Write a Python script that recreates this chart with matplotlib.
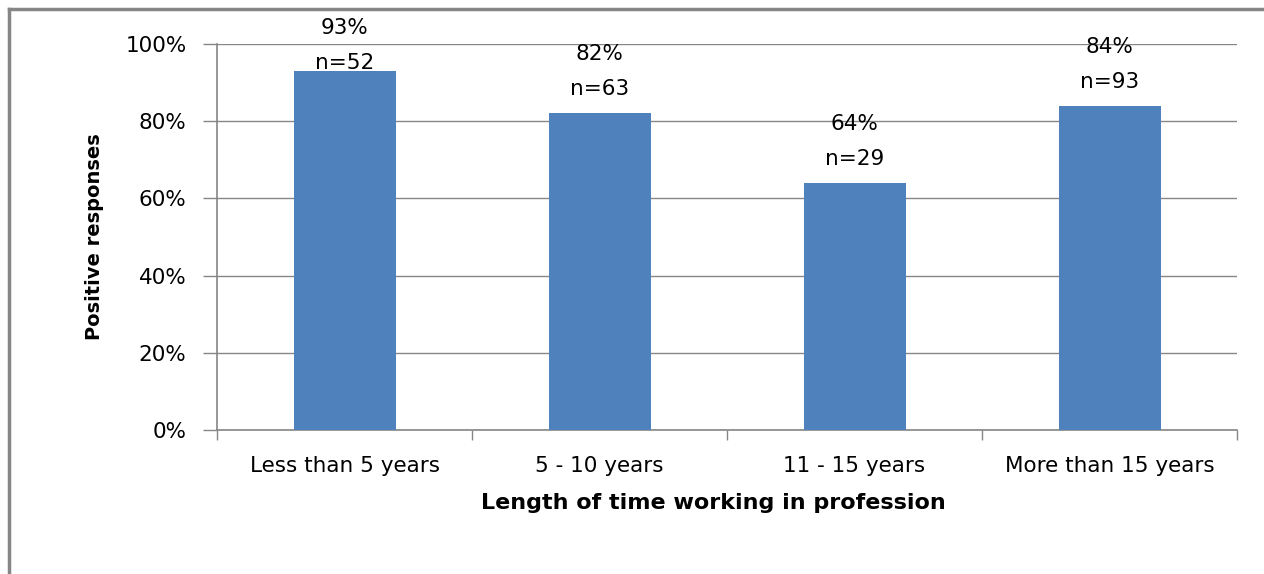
import matplotlib
matplotlib.use("Agg")
import matplotlib.pyplot as plt
from matplotlib.lines import Line2D
import numpy as np

categories = ["Less than 5 years", "5 - 10 years", "11 - 15 years", "More than 15 years"]
positive_pct = [93, 82, 64, 84]
n_counts = [52, 63, 29, 93]
y_ticks = [0, 20, 40, 60, 80, 100]

plt.rcParams['font.family'] = ['DejaVu Sans']
FS = 15.5

W, H = 1264, 574
fig = plt.figure(figsize=(W / 100, H / 100), dpi=100)
fig.patch.set_facecolor("white")

# axes box in pixel coordinates
x0, x1, y_top, y_bot = 217, 1237, 44, 430
ax_h = y_bot - y_top
ax = fig.add_axes([x0 / W, 1 - y_bot / H, (x1 - x0) / W, ax_h / H])

grey = "#868686"
x = np.arange(len(categories))
ax.bar(x, positive_pct, width=0.4, color="#4f81bd", zorder=3)
ax.set_xlim(-0.5, len(categories) - 0.5)
ax.set_ylim(0, 100)

ax.set_yticks(y_ticks)
ax.set_yticklabels([f"{v}%" for v in y_ticks], fontsize=FS)
ax.yaxis.grid(True, color=grey, linewidth=1.0, zorder=0)
ax.tick_params(axis="y", length=10, width=1.0, color=grey, pad=12)

# category boundary ticks on the x axis
ax.set_xticks(np.arange(-0.5, len(categories), 1.0))
ax.set_xticklabels([])
ax.set_xticks(x, minor=True)
ax.set_xticklabels(categories, minor=True, fontsize=FS)
ax.tick_params(axis="x", which="major", length=7, width=1.0, color=grey)
ax.tick_params(axis="x", which="minor", length=0, pad=19)

for side in ("top", "right"):
    ax.spines[side].set_visible(False)
for side in ("left", "bottom"):
    ax.spines[side].set_color(grey)
    ax.spines[side].set_linewidth(1.2)

# two-line value labels above each bar, kept inside the chart area
trans = ax.get_xaxis_transform()
for xi, v, n in zip(x, positive_pct, n_counts):
    pct_y = min(v / 100 + 59 / ax_h, 1 + 16 / ax_h)
    n_y = pct_y - 35 / ax_h
    ax.text(xi, pct_y, f"{v}%", transform=trans, ha="center", va="center",
            fontsize=FS, clip_on=False)
    ax.text(xi, n_y, f"n={n}", transform=trans, ha="center", va="center",
            fontsize=FS, clip_on=False)

ax.set_ylabel("Positive responses", fontsize=14, fontweight="bold", labelpad=15)
ax.set_xlabel("Length of time working in profession", fontsize=16,
              fontweight="bold")
ax.xaxis.set_label_coords(0.487, -73 / ax_h)
ax.xaxis.label.set_va("center")

# outer frame of the chart area
fig.add_artist(Line2D([9 / W, 1.0], [1 - 9 / H, 1 - 9 / H], color=grey,
                      linewidth=2.5, transform=fig.transFigure))
fig.add_artist(Line2D([9 / W, 9 / W], [1 - 9 / H, 0.0], color=grey,
                      linewidth=2.5, transform=fig.transFigure))

fig.savefig("out.png", dpi=100, facecolor="white")
